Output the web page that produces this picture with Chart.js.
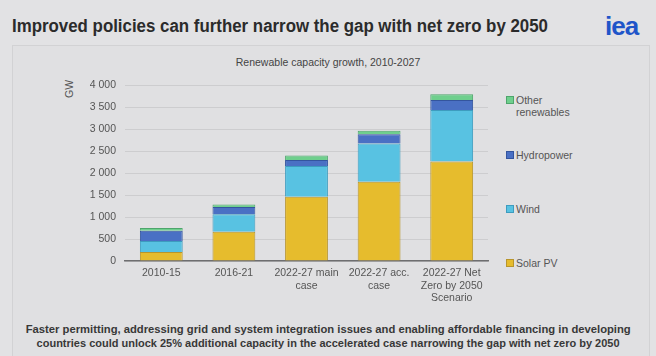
<!DOCTYPE html>
<html>
<head>
<meta charset="utf-8">
<script src="https://cdn.jsdelivr.net/npm/chart.js@4/dist/chart.umd.min.js"></script>
<style>
  html, body { margin: 0; padding: 0; }
  body { width: 656px; height: 356px; background: #e2e2e4; position: relative; overflow: hidden;
         font-family: "Liberation Sans", Arial, sans-serif; }
  #title { position: absolute; left: 12px; top: 16px; font-size: 18px; font-weight: bold; color: #2b2b2b;
           white-space: nowrap; transform-origin: 0 0; }
  #logo { position: absolute; left: 605px; top: 11px; font-size: 26px; font-weight: bold; color: #1f55c9;
          letter-spacing: -1px; }
  #panel { position: absolute; left: 12px; top: 45px; width: 636px; height: 320px; border: 1px solid #d2d2d4;
           background: #e0e0e2; }
  #sub { position: absolute; left: 0; width: 656px; top: 56px; text-align: center; font-size: 10.5px; color: #444; }
  #gw { position: absolute; left: 60px; top: 83px; font-size: 10.5px; color: #555; transform: rotate(-90deg);
        transform-origin: center; }
  #wrap { position: absolute; left: 0; top: 50px; width: 490px; height: 255px; }
  .leg { position: absolute; left: 506px; font-size: 10.5px; color: #555; line-height: 12px; }
  .leg i { position: absolute; left: 0; top: 2px; width: 6px; height: 6px; border: 1px solid; }
  .leg span { display: block; margin-left: 10px; }
  #foot { position: absolute; left: 0; width: 656px; top: 323px; text-align: center; font-size: 10px;
          font-weight: bold; color: #383838; line-height: 14px; }
  #foot div { white-space: nowrap; display: inline-block; transform-origin: center; }
</style>
</head>
<body>
<div id="panel"></div>
<div id="title">Improved policies can further narrow the gap with net zero by 2050</div>
<div id="logo">iea</div>
<div id="sub">Renewable capacity growth, 2010-2027</div>
<div id="gw">GW</div>
<div id="wrap"><canvas id="chart" width="490" height="255"></canvas></div>
<div id="legend"></div>
<div id="foot">
  <div id="f1">Faster permitting, addressing grid and system integration issues and enabling affordable financing in developing</div><br>
  <div id="f2">countries could unlock 25% additional capacity in the accelerated case narrowing the gap with net zero by 2050</div>
</div>
<script>
// renewable capacity additions by period, GW
const categories = [
  '2010-15',
  '2016-21',
  ['2022-27 main', 'case'],
  ['2022-27 acc.', 'case'],
  ['2022-27 Net', 'Zero by 2050', 'Scenario']
];
const solarPV = [205, 665, 1460, 1800, 2260];
const wind = [250, 400, 700, 870, 1170];
const hydropower = [230, 160, 135, 210, 230];
const otherRenewables = [65, 60, 100, 80, 130];
const yTicks = [0, 500, 1000, 1500, 2000, 2500, 3000, 3500, 4000];

const series = [
  { label: 'Solar PV', data: solarPV, bg: '#e6bc2d', bd: '#b8952c' },
  { label: 'Wind', data: wind, bg: '#58c2e2', bd: '#3d9cbf' },
  { label: 'Hydropower', data: hydropower, bg: '#4a70c4', bd: '#34559e' },
  { label: 'Other renewables', data: otherRenewables, bg: '#6fcf8d', bd: '#4ea56c' }
];

// legend sits on the right, spread out like the original slide
const legendSlots = [
  { label: ['Other', 'renewables'], top: 94, s: 3 },
  { label: ['Hydropower'], top: 149, s: 2 },
  { label: ['Wind'], top: 203, s: 1 },
  { label: ['Solar PV'], top: 257, s: 0 }
];
const legendEl = document.getElementById('legend');
legendSlots.forEach(l => {
  const d = document.createElement('div');
  d.className = 'leg';
  d.style.top = l.top + 'px';
  const s = series[l.s];
  d.innerHTML = `<i style="background:${s.bg};border-color:${s.bd}"></i>` +
    l.label.map(t => `<span>${t}</span>`).join('');
  legendEl.appendChild(d);
});

function fitWidth(id, w) {
  const el = document.getElementById(id);
  const r = w / el.getBoundingClientRect().width;
  el.style.transform = `scaleX(${r})`;
}
fitWidth('title', 536);
fitWidth('f1', 605);
fitWidth('f2', 583);

const fmt = v => String(v).replace(/\B(?=(\d{3})+(?!\d))/g, ' ');

new Chart(document.getElementById('chart').getContext('2d'), {
  type: 'bar',
  data: {
    labels: categories,
    datasets: series.map(s => ({
      label: s.label,
      data: s.data,
      backgroundColor: s.bg,
      borderColor: s.bd,
      borderWidth: 1,
      barPercentage: 0.59,
      categoryPercentage: 1
    }))
  },
  options: {
    responsive: false,
    maintainAspectRatio: false,
    animation: false,
    events: [],
    layout: { padding: { top: 35, right: 2, left: 0, bottom: 0 } },
    plugins: { legend: { display: false }, tooltip: { enabled: false } },
    scales: {
      x: {
        stacked: true,
        grid: { display: false, drawTicks: false },
        border: { display: true, color: '#6e6e70', width: 1.5 },
        ticks: { color: '#555', font: { family: 'Liberation Sans', size: 10.5 }, padding: 6, maxRotation: 0, autoSkip: false },
        afterFit: s => { s.height = 44; }
      },
      y: {
        stacked: true,
        min: 0,
        max: 4000,
        afterBuildTicks: s => { s.ticks = yTicks.map(v => ({ value: v })); },
        grid: { color: '#cdcdcf', drawTicks: false },
        border: { display: false },
        ticks: { color: '#555', font: { family: 'Liberation Sans', size: 10.5 }, padding: 9, callback: v => fmt(v) },
        afterFit: s => { s.width = 125; }
      }
    }
  }
});
</script>
</body>
</html>
